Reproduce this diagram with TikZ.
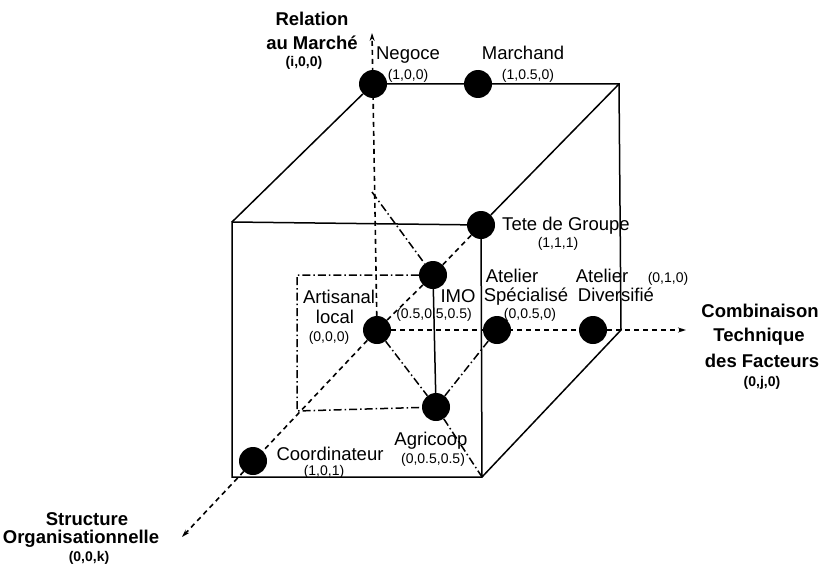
\documentclass[tikz,border=0pt]{standalone}
\usepackage{fontspec}
\setmainfont{Liberation Sans}
\usetikzlibrary{arrows.meta, positioning}

\tikzset{
  pt/.style={circle, fill=black, inner sep=0pt, minimum size=28pt},
  lbl/.style={font=\fontsize{18.5}{20}\selectfont, anchor=base},
  crd/.style={font=\fontsize{14}{16}\selectfont, anchor=base},
  ttl/.style={font=\fontsize{18.5}{20}\selectfont\bfseries, anchor=base},
  ttlcrd/.style={font=\fontsize{14}{16}\selectfont\bfseries, anchor=base},
  edge/.style={line width=1.5pt},
  hid/.style={line width=1.6pt, dash pattern=on 5pt off 4pt},
  axis/.style={hid, -{Stealth[length=8pt,width=5pt]}},
  dd/.style={line width=1.5pt, dash pattern=on 8pt off 3pt on 1.5pt off 3pt},
}

\begin{document}
\begin{tikzpicture}[x=1pt, y=-1pt]
  \useasboundingbox[fill=white] (0,0) rectangle (834,567);

  % --- Points of the cube ---
  \node[pt] (neg) at (373,84) {};
  \node[pt] (mar) at (478,84) {};
  \node[pt] (tete) at (481,225) {};
  \node[pt] (imo) at (433,275) {};
  \node[pt] (art) at (377,330) {};
  \node[pt] (spe) at (497,330) {};
  \node[pt] (div) at (593,330) {};
  \node[pt] (agr) at (436,407) {};
  \node[pt] (coo) at (253,461) {};

  % Corners without a point
  \coordinate (ftl) at (232,222);
  \coordinate (fbl) at (232,477);
  \coordinate (fbr) at (482,477);
  \coordinate (btr) at (619,84);
  \coordinate (bbr) at (621,330);
  \coordinate (itl) at (297,275);
  \coordinate (ibl) at (297,411);
  \coordinate (mid) at (372,192);
  % Axis ends
  \coordinate (atop) at (372,33);
  \coordinate (aright) at (686,330);
  \coordinate (adiag) at (182,537);

  % --- Cube edges ---
  \draw[edge] (neg) -- (mar) -- (btr) -- (bbr) -- (fbr) -- (fbl) -- (ftl) -- (tete);
  \draw[edge] (ftl) -- (neg);
  \draw[edge] (btr) -- (tete) -- (fbr);
  \draw[edge] (imo) -- (agr);

  % --- Axes ---
  \draw[axis] (art) -- (atop);
  \draw[axis] (art) -- (aright);
  \draw[axis] (art) -- (adiag);

  % --- Inner lines ---
  \draw[hid] (tete) -- (imo) -- (art);
  \draw[dd] (mid) -- (imo);
  \draw[dd] (imo) -- (itl) -- (ibl) -- (agr);
  \draw[dd] (art) -- (agr) -- (fbr);
  \draw[dd] (agr) -- (spe);

  % --- Axis titles ---
  \node[ttl] (tRel) at (312,26) {Relation};
  \node[ttl] (tMar) at (312,50) {au Marché};
  \node[ttlcrd] (tRelc) at (304,67) {(i,0,0)};
  \node[ttl] (tCom) at (760,317) {Combinaison};
  \node[ttl] (tTec) at (759,341) {Technique};
  \node[ttl] (tFac) at (762,367) {des Facteurs};
  \node[ttlcrd] (tComc) at (762,386) {(0,j,0)};
  \node[ttl] (tStr) at (87,525) {Structure};
  \node[ttl] (tOrg) at (81,543) {Organisationnelle};
  \node[ttlcrd] (tStrc) at (89,561) {(0,0,k)};

  % --- Point labels ---
  \node[lbl] (lNeg) at (408,60) {Negoce};
  \node[crd] (cNeg) at (408,80) {(1,0,0)};
  \node[lbl] (lMar) at (523,60) {Marchand};
  \node[crd] (cMar) at (528,80) {(1,0.5,0)};
  \node[lbl] (lTet) at (566,230) {Tete de Groupe};
  \node[crd] (cTet) at (558,247) {(1,1,1)};
  \node[lbl] (lArt) at (339,303) {Artisanal};
  \node[lbl] (lLoc) at (335,323) {local};
  \node[crd] (cArt) at (329,341) {(0,0,0)};
  \node[lbl] (lImo) at (458,302) {IMO};
  \node[crd] (cImo) at (434,318) {(0.5,0.5,0.5)};
  \node[lbl] (lAt1) at (512,282) {Atelier};
  \node[lbl] (lSpe) at (526,301) {Spécialisé};
  \node[crd] (cSpe) at (530,318) {(0,0.5,0)};
  \node[lbl] (lAt2) at (602,282) {Atelier};
  \node[lbl] (lDiv) at (616,301) {Diversifié};
  \node[crd] (cDiv) at (668,282) {(0,1,0)};
  \node[lbl] (lAgr) at (431,445) {Agricoop};
  \node[crd] (cAgr) at (433,463) {(0,0.5,0.5)};
  \node[lbl] (lCoo) at (330,460) {Coordinateur};
  \node[crd] (cCoo) at (324,475) {(1,0,1)};
\end{tikzpicture}
\end{document}
